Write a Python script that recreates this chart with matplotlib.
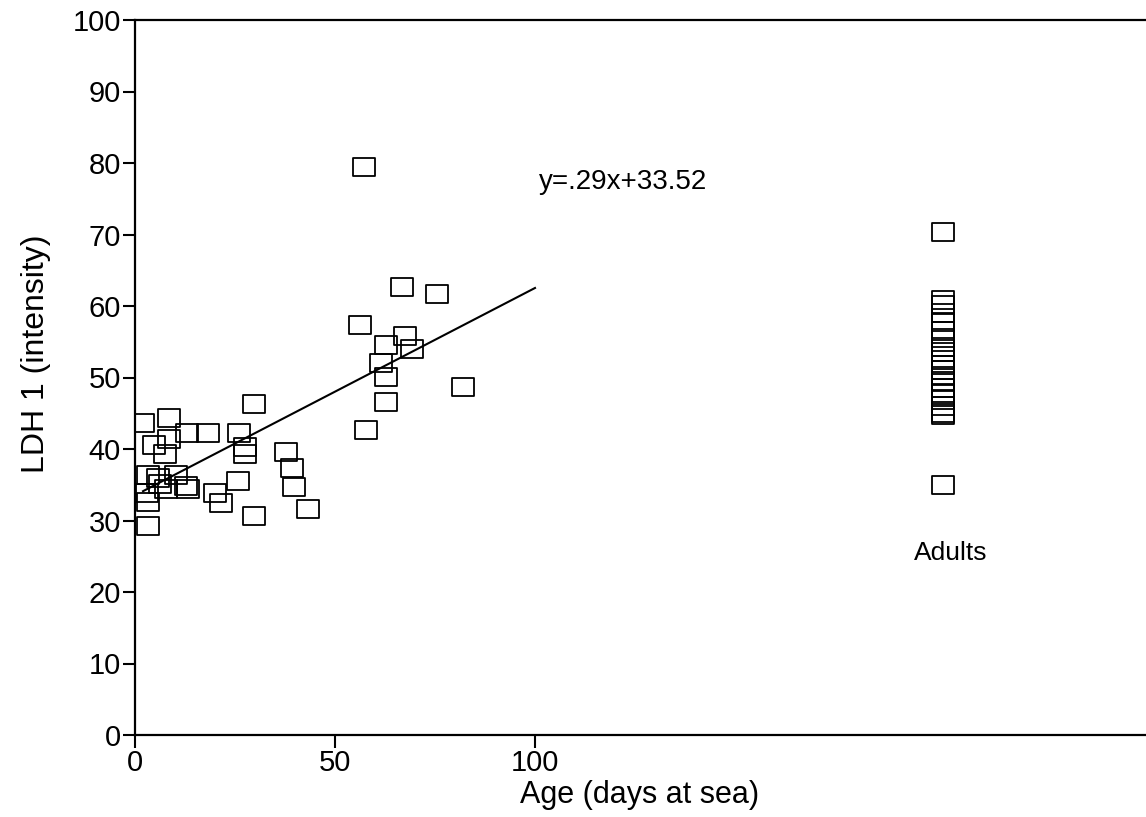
import numpy as np
import matplotlib.pyplot as plt
from matplotlib.path import Path

# juveniles: age (days at sea) vs LDH 1 intensity
age = [2.1, 8.5, 12.9, 18.3, 25.9, 8.5, 4.7, 7.6, 27.5, 27.5,
       3.3, 5.8, 10.2, 6.3, 12.7, 13.3, 7.7, 3.1, 3.2, 20.1,
       21.5, 25.8, 29.7, 3.2, 29.7, 37.8, 39.3, 39.8, 43.3,
       57.2, 66.7, 75.5, 56.2, 67.5, 62.7, 69.2, 61.5, 62.7, 82.0,
       62.7, 57.7]
ldh = [43.6, 44.3, 42.3, 42.2, 42.2, 41.4, 40.5, 39.3, 40.3, 39.3,
       36.3, 36.0, 36.3, 35.1, 34.8, 34.4, 34.4, 33.9, 32.6, 33.9,
       32.5, 35.5, 30.6, 29.2, 46.3, 39.6, 37.3, 34.7, 31.6,
       79.5, 62.6, 61.7, 57.4, 55.8, 54.6, 54.0, 52.0, 50.1, 48.7,
       46.6, 42.6]

# adults plotted in their own column
adult_x = 202
adult_ldh = [70.4, 60.8, 60.2, 59.0, 57.8, 56.5, 55.5, 54.3, 53.5, 52.5,
             51.8, 51.0, 50.2, 49.5, 48.5, 47.8, 46.8, 46.0, 45.0, 44.7, 34.9]

slope, intercept = 0.29, 33.52
fit_x = [2, 100]

# open rectangle marker (wider than tall)
box = Path([(-0.65, -0.5), (0.65, -0.5), (0.65, 0.5), (-0.65, 0.5), (-0.65, -0.5)],
           [Path.MOVETO, Path.LINETO, Path.LINETO, Path.LINETO, Path.CLOSEPOLY])

plt.rcParams['font.family'] = ['Liberation Sans', 'DejaVu Sans']

fig = plt.figure(figsize=(11.46, 8.17), dpi=100)
ax = fig.add_axes([135 / 1146, 1 - 735 / 817, 1010 / 1146, 715 / 817])

mk = dict(marker=box, markersize=16, markerfacecolor='none',
          markeredgecolor='black', markeredgewidth=1.3, linestyle='none')
ax.plot(age, ldh, **mk)
ax.plot([adult_x] * len(adult_ldh), adult_ldh, **mk)

fx = np.array(fit_x)
ax.plot(fx, slope * fx + intercept, color='black', linewidth=1.5)

ax.text(122, 77.3, 'y=.29x+33.52', fontsize=20, ha='center', va='center')
ax.text(204, 25.4, 'Adults', fontsize=19, ha='center', va='center')

ax.set_xlim(0, 252.5)
ax.set_ylim(0, 100)
ax.set_xticks([0, 50, 100])
ax.set_yticks(range(0, 101, 10))
ax.tick_params(axis='both', direction='out', length=9, width=1.5,
               labelsize=21, colors='black', pad=1)
ax.spines['right'].set_visible(False)
for s in ['left', 'bottom', 'top']:
    ax.spines[s].set_linewidth(1.6)

fig.text(640 / 1146, 1 - 795 / 817, 'Age (days at sea)', fontsize=22,
         ha='center', va='center')
fig.text(36 / 1146, 1 - 354 / 817, 'LDH 1 (intensity)', fontsize=23,
         ha='center', va='center', rotation=90)

plt.savefig('out.png', dpi=100)
